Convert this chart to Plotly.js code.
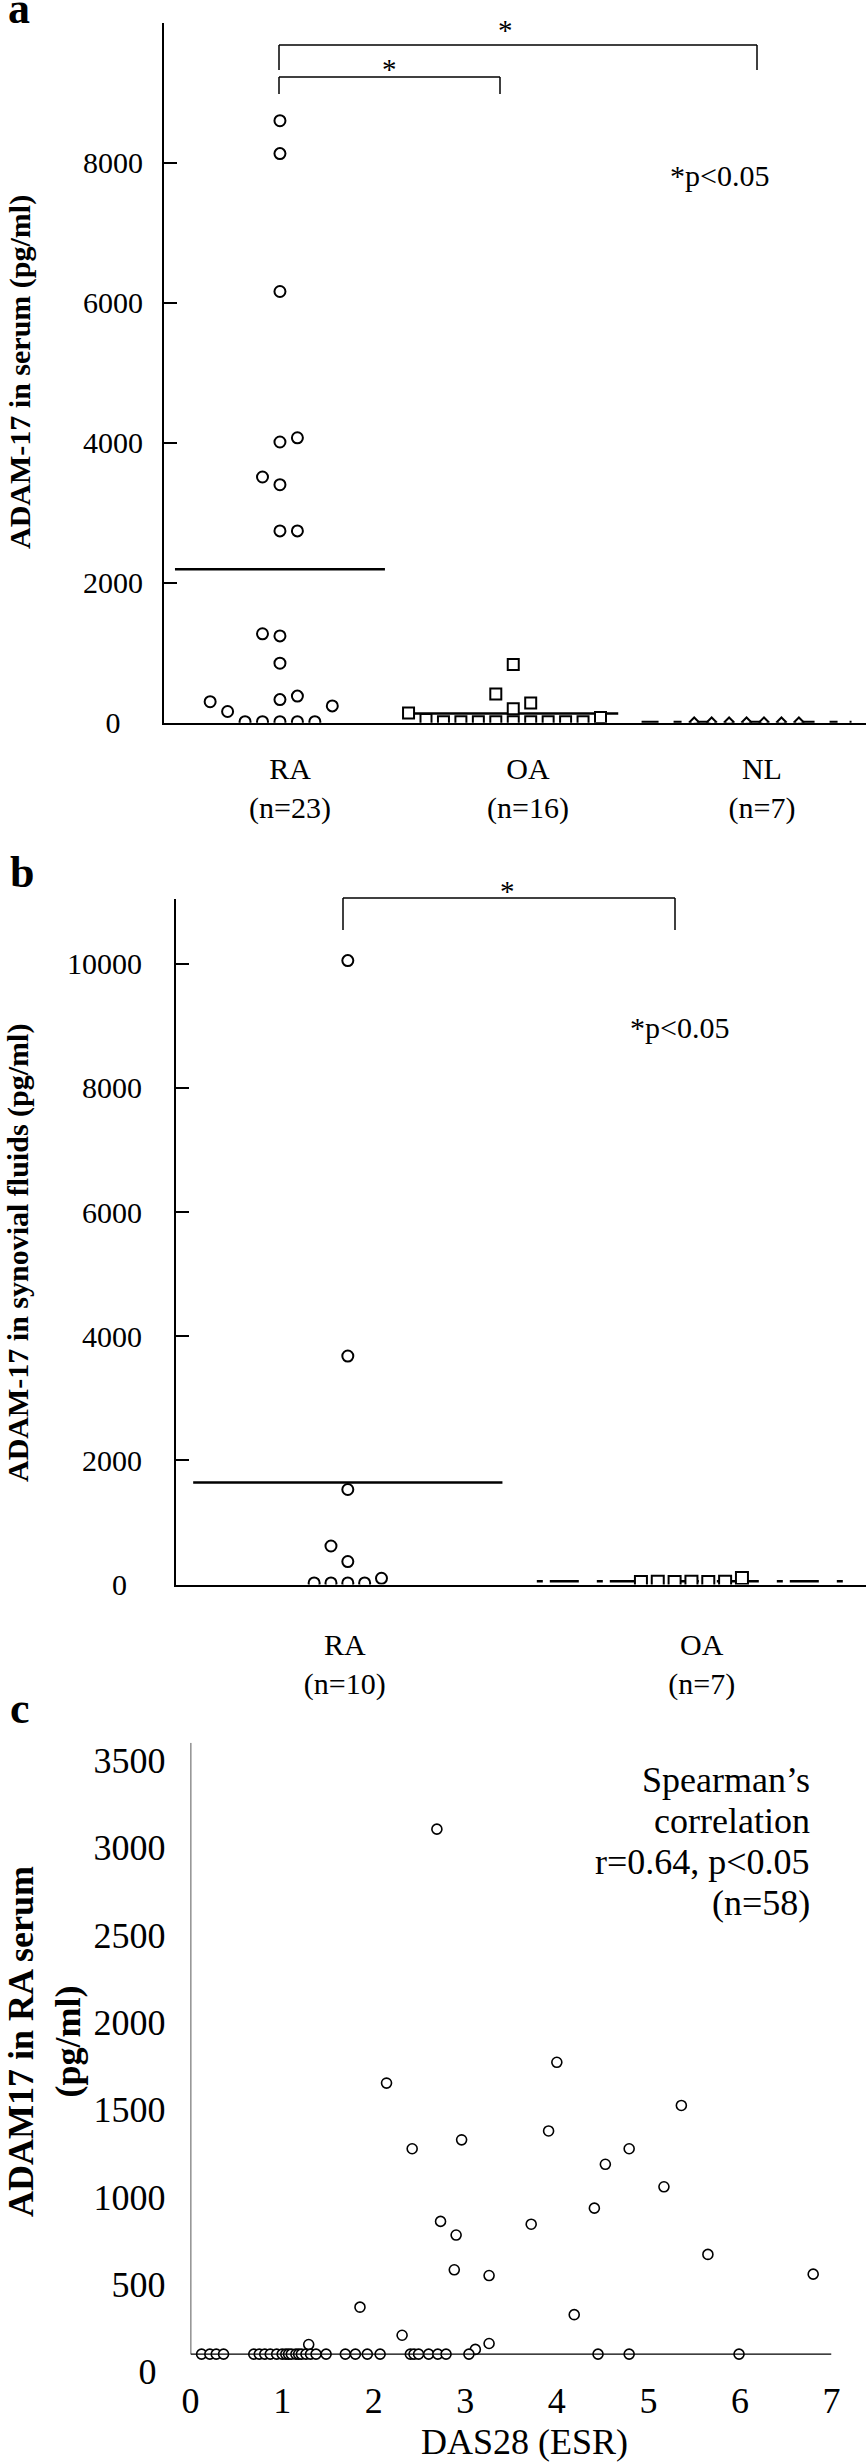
<!DOCTYPE html>
<html>
<head>
<meta charset="utf-8">
<script src="https://cdn.plot.ly/plotly-3.0.1.min.js"></script>
<style>
  html, body { margin: 0; padding: 0; background: #fff; }
  #chart { width: 866px; height: 2463px; }
</style>
</head>
<body>
<div id="chart"></div>
<script>
// panel a: ADAM-17 in serum
const groupsA = ['RA', 'OA', 'NL']
const countsA = [23, 16, 7]
const raSerum = [8600, 8130, 6160, 4010, 4070, 3510, 3400, 2740, 2740, 1270, 1240, 850, 330, 380, 300, 160, 15, 15, 15, 15, 15, 240]
const raSerumSlot = [0, 0, 0, 0, 1, -1, 0, 0, 1, -1, 0, 0, 0, 1, -4, -3, -2, -1, 0, 1, 2, 3]
const oaSerum = [140, 45, 15, 15, 15, 15, 15, 15, 15, 15, 15, 75, 410, 200, 280, 830]
const oaSerumSlot = [-6, -5, -4, -3, -2, -1, 0, 1, 2, 3, 4, 5, -1, 0, 1, 0]
const nlSerum = [10, 10, 10, 10, 10, 10, 10]
const nlSerumSlot = [-3, -2, -1, 0, 1, 2, 3]

// panel b: ADAM-17 in synovial fluids
const groupsB = ['RA', 'OA']
const countsB = [10, 7]
const raFluid = [10050, 3680, 1530, 620, 370, 25, 25, 25, 25, 100]
const raFluidSlot = [0, 0, 0, -1, 0, -2, -1, 0, 1, 2]
const oaFluid = [40, 45, 40, 45, 40, 45, 105]
const oaFluidSlot = [-3, -2, -1, 0, 1, 2, 3]

// panel c: DAS28 vs ADAM17 (points on the axis sit at 100)
const das28 = [2.69, 2.14, 4.00, 5.36, 3.91, 2.96, 2.42, 4.79, 4.53, 5.17, 4.41, 2.73, 3.72, 2.90, 5.65,
    2.88, 3.26, 6.80, 1.85, 4.19, 2.31, 1.29, 3.26, 3.11,
    0.12, 0.21, 0.28, 0.36, 0.69, 0.75, 0.81, 0.87, 0.94, 1.00, 1.04, 1.07, 1.10, 1.15, 1.18, 1.21,
    1.26, 1.31, 1.37, 1.48, 1.69, 1.80, 1.93, 2.07, 2.40, 2.44, 2.49, 2.60, 2.70, 2.79, 3.04, 4.45, 4.79, 5.99]
const adam17 = [3106, 1652, 1771, 1524, 1378, 1327, 1276, 1276, 1187, 1058, 936, 860, 844, 782, 671,
    583, 550, 558, 369, 326, 208, 155, 161, 127,
    100, 100, 100, 100, 100, 100, 100, 100, 100, 100, 100, 100, 100, 100, 100, 100,
    100, 100, 100, 100, 100, 100, 100, 100, 100, 100, 100, 100, 100, 100, 100, 100, 100, 100]
const cAxisCross = 100
const cTop = 3601

const W = 866, H = 2463
const px = v => v / W
const py = v => 1 - v / H
const serif = '"Liberation Serif", "Times New Roman", Times, serif'
const mean = arr => arr.reduce((s, v) => s + v, 0) / arr.length
const nb = n => '\u00a0'.repeat(n)

const slotA = 0.0748, slotB = 0.049, halfMean = 0.45

let data = []

const addGroup = (vals, slots, g, slot, xa, ya, symbol, size, dash) => {
    const m = mean(vals)
    data.push({
        type: 'scatter', mode: 'lines', xaxis: xa, yaxis: ya,
        x: [g - halfMean, g + halfMean], y: [m, m],
        line: { color: '#000', width: 2.5, dash: dash },
    })
    data.push({
        type: 'scatter', mode: 'markers', xaxis: xa, yaxis: ya,
        x: slots.map(s => g + s * slot), y: vals,
        marker: { symbol: symbol, size: size, color: '#fff', line: { color: '#000', width: 2 } },
    })
}

addGroup(raSerum, raSerumSlot, 0, slotA, 'x', 'y', 'circle', 11, 'solid')
addGroup(oaSerum, oaSerumSlot, 1, slotA, 'x', 'y', 'square', 11, 'solid')
addGroup(nlSerum, nlSerumSlot, 2, slotA, 'x', 'y', 'diamond', 7, '17px,15px,8px,12px')
addGroup(raFluid, raFluidSlot, 0, slotB, 'x2', 'y2', 'circle', 11, 'solid')
addGroup(oaFluid, oaFluidSlot, 1, slotB, 'x2', 'y2', 'square', 12, '6px,7px,29px,18px')

data.push({
    type: 'scatter', mode: 'markers', xaxis: 'x3', yaxis: 'y3',
    x: das28, y: adam17,
    marker: { symbol: 'circle', size: 10, color: '#fff', line: { color: '#000', width: 1.6 } },
})

const tickFont = size => ({ family: serif, size: size, color: '#000' })

const seg = (x0, y0, x1, y1, w) => ({
    type: 'line', xref: 'paper', yref: 'paper',
    x0: px(x0), y0: py(y0), x1: px(x1), y1: py(y1),
    line: { color: '#000', width: w },
})

const bracket = (xl, xr, yTop, yLeg) => [
    seg(xl, yLeg, xl, yTop, 1.5), seg(xl, yTop, xr, yTop, 1.5), seg(xr, yTop, xr, yLeg, 1.5),
]

const note = (text, x, y, size, extra) => Object.assign({
    text: text, x: px(x), y: py(y), xref: 'paper', yref: 'paper', showarrow: false,
    xanchor: 'center', yanchor: 'middle', font: { family: serif, size: size, color: '#000' },
}, extra || {})

const shapes = [
    ...bracket(279, 757, 45, 70),
    ...bracket(279, 500, 77, 94),
    ...bracket(343, 675, 898, 930),
    { type: 'line', xref: 'x3', yref: 'y3', x0: 0, x1: 7, y0: cAxisCross, y1: cAxisCross, line: { color: '#000', width: 1.3 } },
    { type: 'line', xref: 'x3', yref: 'y3', x0: 0, x1: 0, y0: cAxisCross, y1: cTop, line: { color: '#000', width: 1.3 } },
]

const annotations = [
    note('<b>a</b>', 19, 9, 44),
    note('<b>b</b>', 22, 873, 44),
    note('<b>c</b>', 20, 1708, 44),
    note('*', 505, 30, 29),
    note('*', 389, 69, 29),
    note('*', 508, 891, 29),
    note('*p<0.05', 719, 175, 30),
    note('*p<0.05', 679, 1027, 30),
    note('<b>ADAM-17 in serum (pg/ml)</b>', 20, 372, 30, { textangle: -90 }),
    note('<b>ADAM-17 in synovial fluids (pg/ml)</b>', 18, 1253, 30, { textangle: -90 }),
    note('<b>ADAM17 in RA serum<br>(pg/ml)</b>', 44, 2042, 36, { textangle: -90 }),
    note('DAS28 (ESR)', 524, 2442, 36),
    note('Spearman\u2019s', 812, 1780, 36, { xanchor: 'right' }),
    note('correlation', 812, 1821, 36, { xanchor: 'right' }),
    note('r=0.64, p<0.05', 812, 1862, 36, { xanchor: 'right' }),
    note('(n=58)', 812, 1903, 36, { xanchor: 'right' }),
]

const baseX = {
    showgrid: false, zeroline: false, ticks: '', showline: true, linecolor: '#000', linewidth: 2,
    tickfont: tickFont(30),
}
const baseY = {
    showgrid: false, zeroline: false, ticks: 'inside', ticklen: 13, tickwidth: 2, tickcolor: '#000',
    showline: true, linecolor: '#000', linewidth: 2, tickfont: tickFont(30),
}

const layout = {
    width: W, height: H,
    margin: { l: 0, r: 0, t: 0, b: 0 },
    paper_bgcolor: '#fff', plot_bgcolor: '#fff',
    showlegend: false, hovermode: false,
    font: { family: serif, color: '#000' },
    xaxis: Object.assign({}, baseX, {
        domain: [px(164), 1], range: [-0.497, 2.512], anchor: 'y',
        tickvals: [0.043, 1.063, 2.066],
        ticktext: groupsA.map((g, i) => g + '<br>(n=' + countsA[i] + ')'),
        ticklabelstandoff: 18,
    }),
    yaxis: Object.assign({}, baseY, {
        domain: [py(722.7), py(22.7)], range: [0, 10000], anchor: 'x',
        tickvals: [0, 2000, 4000, 6000, 8000],
        ticktext: ['0' + nb(3), '2000', '4000', '6000', '8000'],
        ticklabelstandoff: 13,
    }),
    xaxis2: Object.assign({}, baseX, {
        domain: [px(176), 1], range: [-0.5, 1.508], anchor: 'y2',
        tickvals: [-0.009, 1.03],
        ticktext: groupsB.map((g, i) => g + '<br>(n=' + countsB[i] + ')'),
        ticklabelstandoff: 32,
    }),
    yaxis2: Object.assign({}, baseY, {
        domain: [py(1584.5), py(898.5)], range: [0, 11050], anchor: 'x2',
        tickvals: [0, 2000, 4000, 6000, 8000, 10000],
        ticktext: ['0' + nb(2), '2000', '4000', '6000', '8000', '10000'],
        ticklabelstandoff: 26,
    }),
    xaxis3: {
        domain: [px(190.6), px(831.5)], range: [0, 7], anchor: 'y3',
        showgrid: false, zeroline: false, showline: false, ticks: '',
        tickvals: [0, 1, 2, 3, 4, 5, 6, 7], tickfont: tickFont(36),
        ticklabelstandoff: 4,
    },
    yaxis3: {
        domain: [py(2371.6), py(1742.7)], range: [0, cTop], anchor: 'x3',
        showgrid: false, zeroline: false, showline: false, ticks: '',
        tickvals: [0, 500, 1000, 1500, 2000, 2500, 3000, 3500],
        ticktext: ['0' + nb(1), '500', '1000', '1500', '2000', '2500', '3000', '3500'],
        tickfont: tickFont(36), ticklabelstandoff: 24,
    },
    shapes: shapes,
    annotations: annotations,
}

Plotly.newPlot('chart', data, layout, { staticPlot: true })
</script>
</body>
</html>
